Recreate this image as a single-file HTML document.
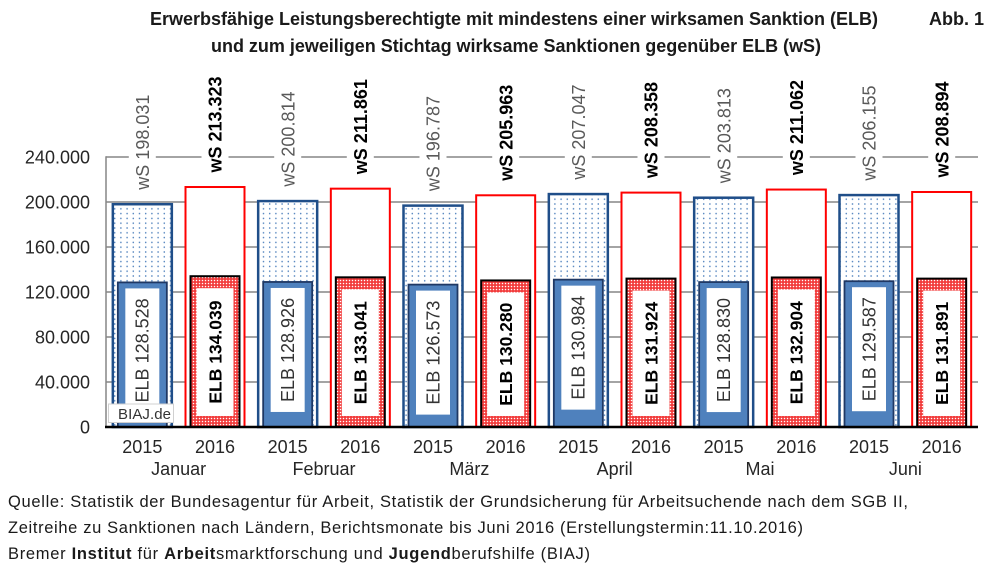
<!DOCTYPE html>
<html><head><meta charset="utf-8"><style>
html,body{margin:0;padding:0;background:#fff;}
svg{display:block;}
text{font-family:"Liberation Sans",Arial,sans-serif;}
</style></head><body>
<svg width="1000" height="570" viewBox="0 0 1000 570" xmlns="http://www.w3.org/2000/svg">
<defs>
<pattern id="dots" patternUnits="userSpaceOnUse" width="6.2" height="4.8">
<rect width="6.2" height="4.8" fill="#fff"/>
<circle cx="3.1" cy="2.4" r="0.8" fill="#4F81BD"/>
</pattern>
<pattern id="wdots" patternUnits="userSpaceOnUse" width="3" height="3">
<circle cx="1.5" cy="1.5" r="0.75" fill="#ffffff"/>
</pattern>
</defs>
<rect width="1000" height="570" fill="#fff"/>

<!-- Title -->
<text x="150" y="25" font-size="18" font-weight="bold" fill="#1a1a1a" textLength="728" lengthAdjust="spacing">Erwerbsfähige Leistungsberechtigte mit mindestens einer wirksamen Sanktion (ELB)</text>
<text x="211" y="52" font-size="18" font-weight="bold" fill="#1a1a1a" textLength="610" lengthAdjust="spacing">und zum jeweiligen Stichtag wirksame Sanktionen gegenüber ELB (wS)</text>
<text x="929" y="25" font-size="18" font-weight="bold" fill="#1a1a1a">Abb. 1</text>

<!-- Gridlines -->
<g stroke="#868686" stroke-width="1.5">
<line x1="106" y1="157" x2="978" y2="157"/>
<line x1="106" y1="202" x2="978" y2="202"/>
<line x1="106" y1="247" x2="978" y2="247"/>
<line x1="106" y1="292" x2="978" y2="292"/>
<line x1="106" y1="337" x2="978" y2="337"/>
<line x1="106" y1="382" x2="978" y2="382"/>
<line x1="106" y1="156.3" x2="106" y2="427"/>
</g>

<!-- Y labels -->
<g font-size="18" fill="#262626" text-anchor="end">
<text x="90" y="163.4">240.000</text>
<text x="90" y="208.4">200.000</text>
<text x="90" y="253.4">160.000</text>
<text x="90" y="298.4">120.000</text>
<text x="90" y="343.4">80.000</text>
<text x="90" y="388.4">40.000</text>
<text x="90" y="433.4">0</text>
</g>

<!-- Label gaps on 240.000 gridline -->
<g fill="#fff">
<rect x="128.8" y="153" width="27" height="8"/>
<rect x="201.5" y="153" width="27" height="8"/>
<rect x="274.2" y="153" width="27" height="8"/>
<rect x="346.8" y="153" width="27" height="8"/>
<rect x="419.5" y="153" width="27" height="8"/>
<rect x="492.2" y="153" width="27" height="8"/>
<rect x="564.8" y="153" width="27" height="8"/>
<rect x="637.5" y="153" width="27" height="8"/>
<rect x="710.2" y="153" width="27" height="8"/>
<rect x="782.8" y="153" width="27" height="8"/>
<rect x="855.5" y="153" width="27" height="8"/>
<rect x="928.2" y="153" width="27" height="8"/>
</g>

<!-- Outer bars -->
<g>
<rect x="112.83" y="204.22" width="59" height="222.78" fill="url(#dots)" stroke="#1F4E89" stroke-width="2.5"/>
<rect x="185.5" y="187.01" width="59" height="239.99" fill="#fff" stroke="#FF0000" stroke-width="2"/>
<rect x="258.17" y="201.08" width="59" height="225.92" fill="url(#dots)" stroke="#1F4E89" stroke-width="2.5"/>
<rect x="330.83" y="188.66" width="59" height="238.34" fill="#fff" stroke="#FF0000" stroke-width="2"/>
<rect x="403.5" y="205.61" width="59" height="221.39" fill="url(#dots)" stroke="#1F4E89" stroke-width="2.5"/>
<rect x="476.17" y="195.29" width="59" height="231.71" fill="#fff" stroke="#FF0000" stroke-width="2"/>
<rect x="548.83" y="194.07" width="59" height="232.93" fill="url(#dots)" stroke="#1F4E89" stroke-width="2.5"/>
<rect x="621.5" y="192.60" width="59" height="234.4" fill="#fff" stroke="#FF0000" stroke-width="2"/>
<rect x="694.17" y="197.71" width="59" height="229.29" fill="url(#dots)" stroke="#1F4E89" stroke-width="2.5"/>
<rect x="766.83" y="189.55" width="59" height="237.45" fill="#fff" stroke="#FF0000" stroke-width="2"/>
<rect x="839.5" y="195.08" width="59" height="231.92" fill="url(#dots)" stroke="#1F4E89" stroke-width="2.5"/>
<rect x="912.17" y="191.99" width="59" height="235.01" fill="#fff" stroke="#FF0000" stroke-width="2"/>
</g>

<!-- Inner bars 2015 -->
<g fill="#4F81BD" stroke="#1F3864" stroke-width="1.8">
<rect x="117.83" y="282.41" width="49" height="144.59"/>
<rect x="263.17" y="281.96" width="49" height="145.04"/>
<rect x="408.5" y="284.61" width="49" height="142.39"/>
<rect x="553.83" y="279.64" width="49" height="147.36"/>
<rect x="699.17" y="282.07" width="49" height="144.93"/>
<rect x="844.5" y="281.21" width="49" height="145.79"/>
</g>
<!-- Inner bars 2016: solid red base -->
<g fill="#F23C3C">
<rect x="190.5" y="276.21" width="49" height="150.79"/>
<rect x="335.83" y="277.33" width="49" height="149.67"/>
<rect x="481.17" y="280.44" width="49" height="146.56"/>
<rect x="626.5" y="278.59" width="49" height="148.41"/>
<rect x="771.83" y="277.48" width="49" height="149.52"/>
<rect x="917.17" y="278.62" width="49" height="148.38"/>
</g>
<!-- white dot overlay + black border -->
<g fill="url(#wdots)" stroke="#000" stroke-width="2">
<rect x="190.5" y="276.21" width="49" height="150.79"/>
<rect x="335.83" y="277.33" width="49" height="149.67"/>
<rect x="481.17" y="280.44" width="49" height="146.56"/>
<rect x="626.5" y="278.59" width="49" height="148.41"/>
<rect x="771.83" y="277.48" width="49" height="149.52"/>
<rect x="917.17" y="278.62" width="49" height="148.38"/>
</g>

<!-- Label boxes -->
<g fill="#fff">
<rect x="125.33" y="288.41" width="34" height="124"/>
<rect x="196.5" y="288.21" width="37" height="127.79"/>
<rect x="270.67" y="287.96" width="34" height="124"/>
<rect x="341.83" y="289.33" width="37" height="126.67"/>
<rect x="416" y="290.61" width="34" height="124"/>
<rect x="487.17" y="292.44" width="37" height="123.56"/>
<rect x="561.33" y="285.64" width="34" height="124"/>
<rect x="632.5" y="290.59" width="37" height="125.41"/>
<rect x="706.67" y="288.07" width="34" height="124"/>
<rect x="777.83" y="289.48" width="37" height="126.52"/>
<rect x="852" y="287.21" width="34" height="124"/>
<rect x="923.17" y="290.62" width="37" height="125.38"/>
</g>

<!-- ELB labels 2015 -->
<g font-size="18" fill="#333" text-anchor="middle">
<text transform="translate(148.7,350.41) rotate(-90)">ELB 128.528</text>
<text transform="translate(294.1,349.96) rotate(-90)">ELB 128.926</text>
<text transform="translate(439.4,352.61) rotate(-90)">ELB 126.573</text>
<text transform="translate(584.7,347.64) rotate(-90)">ELB 130.984</text>
<text transform="translate(730.1,350.07) rotate(-90)">ELB 128.830</text>
<text transform="translate(875.4,349.21) rotate(-90)">ELB 129.587</text>
</g>
<!-- ELB labels 2016 -->
<g font-size="17.5" font-weight="bold" fill="#000" text-anchor="middle">
<text transform="translate(221.3,352.1) rotate(-90)">ELB 134.039</text>
<text transform="translate(366.6,352.7) rotate(-90)">ELB 133.041</text>
<text transform="translate(512,354.2) rotate(-90)">ELB 130.280</text>
<text transform="translate(657.3,353.3) rotate(-90)">ELB 131.924</text>
<text transform="translate(802.6,352.7) rotate(-90)">ELB 132.904</text>
<text transform="translate(948,353.3) rotate(-90)">ELB 131.891</text>
</g>

<!-- BIAJ.de box -->
<rect x="108.5" y="404" width="65" height="18.5" fill="#fff" stroke="#d0d0d0" stroke-width="1"/>
<text x="118" y="419" font-size="15" fill="#333" textLength="53" lengthAdjust="spacing">BIAJ.de</text>

<!-- X axis -->
<line x1="105" y1="427" x2="978" y2="427" stroke="#000" stroke-width="2.5"/>

<!-- Top labels 2015 -->
<g font-size="18" fill="#595959">
<text transform="translate(149,189.7) rotate(-90)">wS 198.031</text>
<text transform="translate(294.3,186.6) rotate(-90)">wS 200.814</text>
<text transform="translate(439.6,191.1) rotate(-90)">wS 196.787</text>
<text transform="translate(585,179.6) rotate(-90)">wS 207.047</text>
<text transform="translate(730.3,183.2) rotate(-90)">wS 203.813</text>
<text transform="translate(875.6,180.6) rotate(-90)">wS 206.155</text>
</g>
<!-- Top labels 2016 -->
<g font-size="18" font-weight="bold" fill="#000">
<text transform="translate(221.6,172.5) rotate(-90)">wS 213.323</text>
<text transform="translate(367,174.2) rotate(-90)">wS 211.861</text>
<text transform="translate(512.3,180.8) rotate(-90)">wS 205.963</text>
<text transform="translate(657.6,178.1) rotate(-90)">wS 208.358</text>
<text transform="translate(803,175.1) rotate(-90)">wS 211.062</text>
<text transform="translate(948.3,177.5) rotate(-90)">wS 208.894</text>
</g>

<!-- X labels -->
<g font-size="18" fill="#262626" text-anchor="middle">
<text x="142.33" y="453">2015</text>
<text x="215" y="453">2016</text>
<text x="287.67" y="453">2015</text>
<text x="360.33" y="453">2016</text>
<text x="433" y="453">2015</text>
<text x="505.67" y="453">2016</text>
<text x="578.33" y="453">2015</text>
<text x="651" y="453">2016</text>
<text x="723.67" y="453">2015</text>
<text x="796.33" y="453">2016</text>
<text x="869" y="453">2015</text>
<text x="941.67" y="453">2016</text>
<text x="178.67" y="475">Januar</text>
<text x="324" y="475">Februar</text>
<text x="469.33" y="475">März</text>
<text x="614.67" y="475">April</text>
<text x="760" y="475">Mai</text>
<text x="905.33" y="475">Juni</text>
</g>

<!-- Footer -->
<g font-size="16.5" fill="#1a1a1a">
<text x="8" y="507" textLength="900" lengthAdjust="spacing">Quelle: Statistik der Bundesagentur für Arbeit, Statistik der Grundsicherung für Arbeitsuchende nach dem SGB II,</text>
<text x="8" y="533" textLength="795" lengthAdjust="spacing">Zeitreihe zu Sanktionen nach Ländern, Berichtsmonate bis Juni 2016 (Erstellungstermin:11.10.2016)</text>
<text x="8" y="559" textLength="582" lengthAdjust="spacing">Bremer <tspan font-weight="bold">Institut</tspan> für <tspan font-weight="bold">Arbeit</tspan>smarktforschung und <tspan font-weight="bold">Jugend</tspan>berufshilfe (BIAJ)</text>
</g>
</svg>
</body></html>
